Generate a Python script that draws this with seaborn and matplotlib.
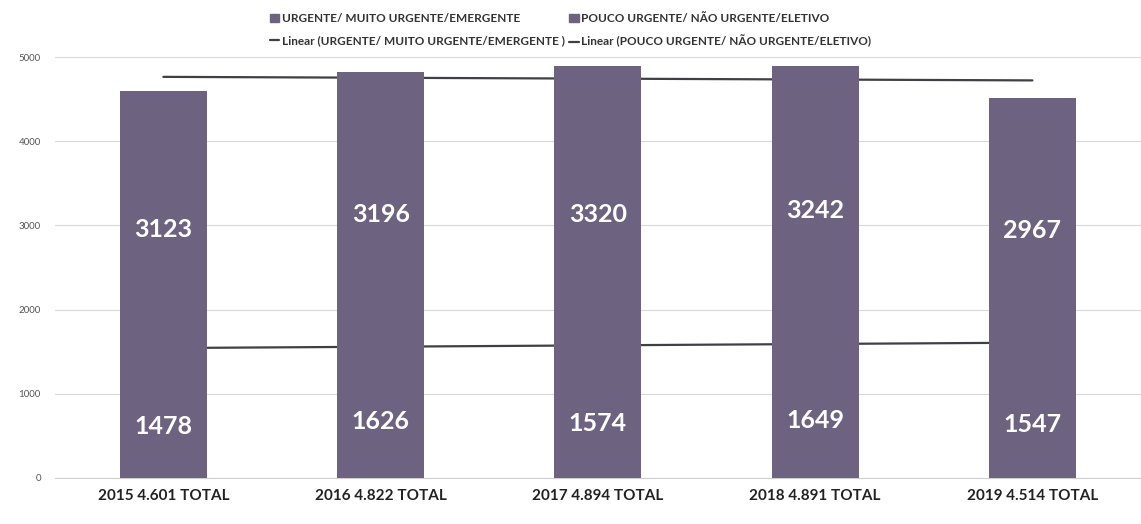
import numpy as np
import matplotlib.pyplot as plt
import seaborn as sns
from matplotlib.patches import Patch
from matplotlib.lines import Line2D

# data
categories = ["2015 4.601 TOTAL", "2016 4.822 TOTAL", "2017 4.894 TOTAL",
              "2018 4.891 TOTAL", "2019 4.514 TOTAL"]
urgente = [1478, 1626, 1574, 1649, 1547]
pouco_urgente = [3123, 3196, 3320, 3242, 2967]

label_urg = "URGENTE/ MUITO URGENTE/EMERGENTE"
label_pouco = "POUCO URGENTE/ NÃO URGENTE/ELETIVO"

BAR_COLOR = "#6d6380"
LINE_COLOR = "#3f3f46"

sns.set_style("white")
plt.rcParams["font.family"] = ["Lato", "DejaVu Sans"]

fig = plt.figure(figsize=(11.41, 5.24), dpi=100)
ax = fig.add_axes([0.048, 0.088, 0.952, 0.803])

x = np.arange(len(categories))
totals = np.array(urgente) + np.array(pouco_urgente)

sns.barplot(x=categories, y=totals, color=BAR_COLOR, width=0.4,
            saturation=1, linewidth=0, ax=ax, zorder=2)
sns.barplot(x=categories, y=urgente, color=BAR_COLOR, width=0.4,
            saturation=1, linewidth=0, ax=ax, zorder=3)

# linear trendlines (bottom series and stacked total), drawn behind the bars
xs = np.array([0.0, 4.0])
for vals in (urgente, totals):
    k, b = np.polyfit(x, vals, 1)
    ax.plot(xs, k * xs + b, color=LINE_COLOR, lw=1.6, zorder=1.5)

for i in range(len(categories)):
    ax.text(i, urgente[i] * 0.41, str(urgente[i]), ha="center", va="center",
            color="white", fontsize=18, fontweight="bold", zorder=5)
    ax.text(i, urgente[i] + pouco_urgente[i] * 0.47, str(pouco_urgente[i]),
            ha="center", va="center", color="white", fontsize=18,
            fontweight="bold", zorder=5)

ax.set_xlim(-0.5, 4.5)
ax.set_ylim(0, 5000)
ax.set_yticks(range(0, 5001, 1000))
ax.yaxis.grid(True, color="#d9d9d9", lw=0.8)
ax.set_axisbelow(True)
for s in ["top", "right", "left"]:
    ax.spines[s].set_visible(False)
ax.spines["bottom"].set_color("#cfcfcf")
ax.tick_params(axis="y", labelsize=7, colors="#555555", length=0, pad=10)
ax.tick_params(axis="x", labelsize=11, colors="#222222", length=0, pad=8)
for t in ax.get_xticklabels():
    t.set_fontweight("bold")

handles = [
    Patch(color=BAR_COLOR, label=label_urg),
    Line2D([], [], color=LINE_COLOR, lw=1.6, label="Linear (" + label_urg + " )"),
    Patch(color=BAR_COLOR, label=label_pouco),
    Line2D([], [], color=LINE_COLOR, lw=1.6, label="Linear (" + label_pouco + ")"),
]
leg = fig.legend(handles=handles, loc="upper center", bbox_to_anchor=(0.5, 0.995),
                 ncol=2, frameon=False, fontsize=8.5, handlelength=0.8,
                 handletextpad=0.2, columnspacing=0.4, labelspacing=0.9)
for t in leg.get_texts():
    t.set_fontweight("bold")
    t.set_color("#333333")

fig.savefig("out.png", dpi=100)
